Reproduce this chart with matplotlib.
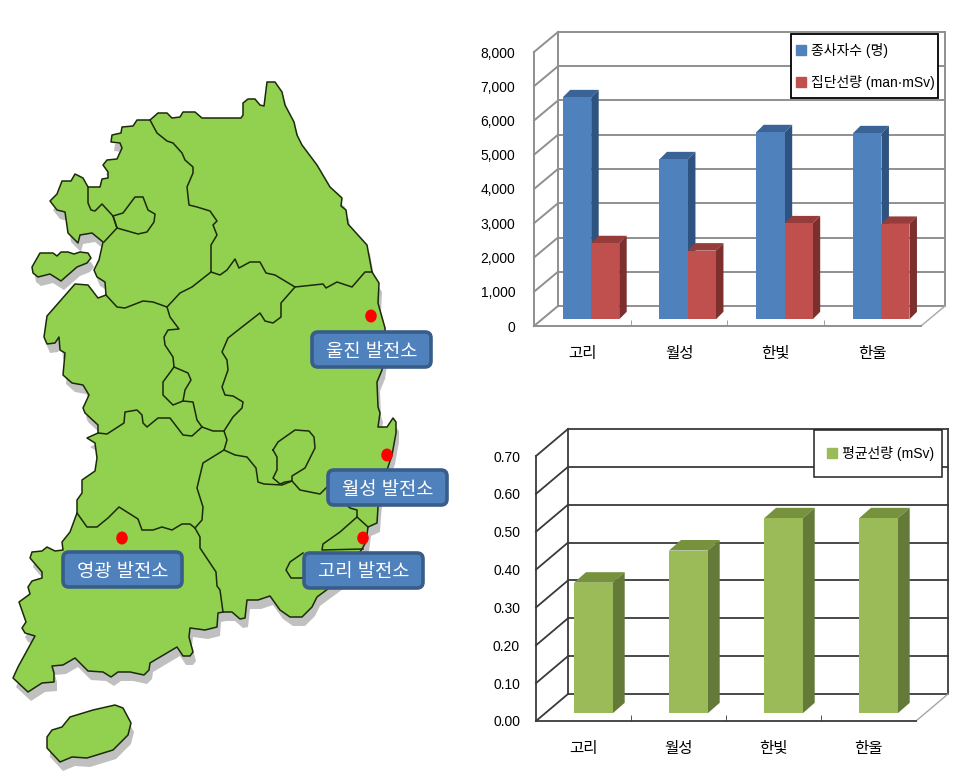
import matplotlib
matplotlib.use('Agg')
import matplotlib.pyplot as plt
from matplotlib.patches import Polygon, Ellipse, FancyBboxPatch, Patch, Rectangle

plt.rcParams['font.family'] = ['Liberation Sans', 'Noto Sans CJK KR']

W, H = 962, 784

# chart data
plants = ['고리', '월성', '한빛', '한울']
workers = [6480, 4670, 5460, 5430]
collective_dose = [2220, 2005, 2800, 2785]
mean_dose = [0.345, 0.43, 0.515, 0.515]

# map outlines, in image pixels
mainland = [(150, 120), (158, 113), (167, 113), (172, 118), (180, 117), (183, 112), (195, 112), (202, 118),
            (241, 118), (243, 115), (243, 103), (248, 99), (255, 99), (260, 105), (264, 106), (267, 82),
            (275, 82), (282, 92), (285, 105), (294, 122), (297, 135), (302, 145), (317, 165), (330, 187),
            (342, 198), (341, 206), (346, 210), (348, 224), (367, 245), (372, 272), (379, 283), (378, 303),
            (385, 328), (385, 350), (382, 370), (377, 382), (378, 407), (380, 413), (378, 427), (387, 427),
            (393, 418), (396, 422), (396, 433), (392, 455), (388, 467), (380, 490), (378, 507), (377, 523),
            (368, 527), (366, 542), (362, 549), (340, 580), (317, 597), (312, 607), (302, 617), (290, 617),
            (280, 610), (270, 596), (258, 600), (247, 600), (245, 618), (240, 619), (232, 612), (223, 612),
            (218, 613), (217, 627), (205, 630), (190, 628), (189, 637), (193, 652), (190, 656), (183, 656),
            (177, 647), (150, 663), (149, 670), (144, 675), (130, 672), (118, 672), (111, 677), (103, 672),
            (88, 671), (75, 658), (63, 665), (52, 666), (54, 673), (54, 682), (42, 683), (28, 692),
            (13, 678), (18, 667), (35, 636), (25, 633), (22, 628), (26, 622), (19, 602), (30, 594),
            (28, 587), (32, 581), (42, 578), (42, 572), (30, 558), (32, 552), (42, 551), (47, 547),
            (55, 551), (63, 550), (62, 542), (70, 532), (77, 513), (77, 500), (82, 493), (82, 480),
            (95, 471), (97, 458), (95, 443), (87, 438), (98, 433), (98, 425), (85, 413), (83, 408),
            (89, 395), (83, 385), (72, 383), (63, 375), (65, 353), (60, 350), (59, 337), (55, 343),
            (47, 344), (44, 337), (47, 316), (75, 284), (88, 285), (98, 298), (106, 295), (105, 282),
            (97, 277), (94, 270), (99, 260), (103, 242), (92, 233), (80, 235), (78, 243), (68, 233),
            (65, 212), (57, 210), (50, 201), (57, 194), (62, 181), (71, 181), (75, 174), (83, 178),
            (88, 187), (100, 187), (102, 179), (108, 178), (108, 172), (103, 165), (107, 160), (117, 159),
            (122, 148), (120, 143), (111, 142), (112, 135), (121, 133), (122, 127), (133, 126), (137, 120)]
west_island = [(32, 267), (40, 253), (53, 253), (57, 256), (61, 252), (68, 252), (74, 254), (80, 252),
               (88, 253), (91, 258), (87, 263), (77, 267), (61, 281), (50, 274), (38, 277), (33, 273)]
jeju = [(47, 737), (52, 730), (62, 727), (70, 717), (93, 710), (115, 705), (123, 708), (131, 723),
        (128, 735), (113, 750), (87, 758), (72, 757), (60, 762), (47, 748)]

borders = [
    [(150, 120), (157, 133), (167, 141), (173, 143), (182, 153), (185, 160), (193, 167), (193, 173),
     (187, 187), (189, 205), (197, 207), (210, 211), (217, 221), (213, 225), (217, 235), (211, 245), (211, 272)],
    [(211, 272), (220, 275), (227, 270), (235, 259), (239, 268), (250, 262), (260, 262), (266, 273),
     (275, 275), (295, 287), (323, 284), (326, 288), (337, 282), (352, 287), (365, 272), (372, 272)],
    [(211, 272), (192, 287), (180, 293), (167, 307), (153, 302), (143, 301), (125, 308), (117, 307), (106, 295)],
    [(167, 307), (170, 317), (179, 329), (168, 330), (164, 337), (165, 345), (173, 357), (174, 367),
     (163, 382), (163, 395), (173, 405), (183, 401), (185, 390), (191, 380), (188, 373), (174, 367)],
    [(183, 401), (193, 402), (197, 420), (202, 427), (213, 431), (224, 431), (233, 417), (242, 408),
     (243, 402), (233, 396), (225, 395), (222, 387), (228, 370), (227, 360), (222, 352), (228, 338),
     (242, 327), (260, 313), (265, 321), (273, 323), (281, 317), (281, 303), (295, 287)],
    [(98, 433), (107, 434), (124, 423), (125, 412), (137, 410), (142, 415), (143, 423), (147, 427),
     (158, 418), (170, 418), (183, 435), (192, 436), (202, 427)],
    [(224, 431), (227, 440), (224, 450), (203, 463), (197, 488), (203, 507), (202, 520), (195, 528)],
    [(77, 513), (87, 527), (97, 527), (108, 518), (119, 507), (138, 519), (142, 530), (153, 530),
     (162, 527), (172, 530), (182, 524), (190, 524), (195, 528)],
    [(195, 528), (200, 537), (200, 548), (216, 572), (217, 586), (220, 590), (223, 612)],
    [(224, 450), (235, 455), (247, 457), (256, 468), (258, 482), (264, 484), (282, 485), (292, 481),
     (300, 490), (320, 494), (327, 487), (350, 508), (357, 510), (357, 517), (368, 527)],
    [(273, 450), (278, 442), (295, 430), (309, 431), (314, 437), (315, 448), (305, 468), (292, 476),
     (292, 481), (285, 482), (280, 484), (273, 478), (277, 470), (277, 457), (273, 450)],
    [(357, 517), (340, 532), (323, 544), (322, 550), (363, 549)],
    [(303, 553), (290, 562), (286, 570), (291, 578), (305, 578)],
    [(113, 216), (123, 213), (135, 197), (143, 197), (148, 210), (155, 214), (154, 222), (147, 232),
     (138, 234), (117, 228), (113, 216)],
    [(88, 187), (88, 203), (91, 210), (95, 211), (102, 204), (113, 216), (117, 228), (104, 242)],
]

site_x = [371, 387, 363, 122]
site_y = [316, 455, 538, 538]
box_names = ['울진 발전소', '월성 발전소', '고리 발전소', '영광 발전소']
box_left = [310, 326, 302, 61]
box_top = [330, 468, 551, 550]


def make_axes(fig, left, right, top, bottom):
    return fig.add_axes([left / W, 1 - bottom / H, (right - left) / W, (bottom - top) / H])


def draw_bar(ax, x, val, width, base, dx, dy, front, side, top, zorder):
    ax.fill([x, x + dx, x + width + dx, x + width], [val + base, val + base + dy, val + base + dy, val + base],
            color=top, zorder=zorder, clip_on=False, lw=0)
    ax.fill([x + width, x + width + dx, x + width + dx, x + width],
            [base, base + dy, val + base + dy, val + base], color=side, zorder=zorder, clip_on=False, lw=0)
    ax.bar(x, val, width, bottom=base, align='edge', color=front, zorder=zorder + 0.1, clip_on=False)


def draw_chart(box, back_dx, back_dy, ymax, step, fmt, line, lw, ypad):
    left, right, top, bottom = box
    ax = make_axes(fig, left, right, top, bottom)
    ax.patch.set_alpha(0)
    ax.set_xlim(0, 4)
    ax.set_ylim(0, ymax)
    xu = 4 / (right - left)
    yu = ymax / (bottom - top)
    dx, dy = back_dx * xu, back_dy * yu

    n = int(round(ymax / step))
    for i in range(n + 1):
        v = i * step
        ax.plot([0, dx], [v, v + dy], color=line, lw=lw, zorder=1, clip_on=False)
        ax.plot([dx, 4 + dx], [v + dy, v + dy], color=line, lw=lw, zorder=1, clip_on=False)
    ax.plot([dx, dx], [dy, ymax + dy], color=line, lw=lw, zorder=1, clip_on=False)
    ax.plot([4 + dx, 4 + dx], [dy, ymax + dy], color=line, lw=lw, zorder=1, clip_on=False)
    ax.plot([4, 4 + dx], [0, dy], color='#a6a6a6', lw=1, zorder=1, clip_on=False)

    for s in ['top', 'right']:
        ax.spines[s].set_visible(False)
    for s in ['left', 'bottom']:
        ax.spines[s].set_color(line)
        ax.spines[s].set_linewidth(lw)
    ax.set_yticks([i * step for i in range(n + 1)])
    ax.set_yticklabels([fmt.format(i * step) for i in range(n + 1)], fontsize=10)
    ax.set_xticks([0.5, 1.5, 2.5, 3.5])
    ax.set_xticklabels(plants, fontsize=11.2)
    ax.set_xticks([1, 2, 3], minor=True)
    ax.tick_params(axis='x', which='major', length=0, pad=14.5)
    ax.tick_params(axis='x', which='minor', direction='in', length=4.5, color=line)
    ax.tick_params(axis='y', length=0, pad=ypad)
    return ax, xu, yu


def legend_frame(left, top, right, bottom, color, lw):
    fig.add_artist(Rectangle((left / W, 1 - bottom / H), (right - left) / W, (bottom - top) / H,
                             transform=fig.transFigure, fc='white', ec=color, lw=lw, zorder=5))


def legend_entries(handles, left, top, spacing):
    leg = fig.legend(handles=handles, loc='upper left', bbox_to_anchor=(left / W, 1 - top / H),
                     bbox_transform=fig.transFigure, frameon=False, fontsize=10, borderaxespad=0, borderpad=0,
                     handlelength=0.7, handleheight=0.7, handletextpad=0.35, labelspacing=spacing)
    leg.set_zorder(6)


fig = plt.figure(figsize=(W / 100, H / 100), dpi=100)

# map layer in image pixels
mp = fig.add_axes([0, 0, 1, 1])
mp.set_xlim(0, W)
mp.set_ylim(H, 0)
mp.axis('off')
for shape in [mainland, west_island, jeju]:
    mp.add_patch(Polygon([(x + 3, y + 9) for x, y in shape], closed=True, fc='#c0c0c0', ec='none', zorder=1))
for shape in [mainland, west_island, jeju]:
    mp.add_patch(Polygon(shape, closed=True, fc='#92d050', ec='#1c2a0c', lw=1.1, joinstyle='round', zorder=2))
for b in borders:
    mp.plot([p[0] for p in b], [p[1] for p in b], color='#1c2a0c', lw=1.1, zorder=3)
for x, y in zip(site_x, site_y):
    mp.add_patch(Ellipse((x, y), 11.5, 13, fc='#ff0000', ec='none', zorder=4))
for name, x, y in zip(box_names, box_left, box_top):
    mp.add_patch(FancyBboxPatch((x + 2, y + 2), 119, 35, boxstyle='round,pad=0,rounding_size=6',
                                fc='#4f81bd', ec='#385d8a', lw=2.6, zorder=5))
    mp.text(x + 61.5, y + 22, name, color='white', fontsize=13.5, ha='center', va='center', zorder=6)

# upper chart
ax1, xu, yu = draw_chart((534, 921, 52, 326), 24, 20, 8000, 1000, '{:,.0f}', '#8f8f8f', 1.4, 13.5)
bar_w = 28.5 * xu
for i in range(4):
    x0 = i + 28.7 * xu
    draw_bar(ax1, x0, workers[i], bar_w, 6.7 * yu, 7.5 * xu, 7.5 * yu, '#4f81bd', '#2f5380', '#3a6496', 3)
    draw_bar(ax1, x0 + bar_w, collective_dose[i], bar_w - 0.5 * xu, 6.7 * yu, 7.5 * xu, 7.5 * yu,
             '#c0504d', '#7d2f2d', '#963c3a', 3)
legend_frame(791, 34, 938, 98, 'black', 1.3)
legend_entries([Patch(color='#4f81bd', label='종사자수 (명)'),
                Patch(color='#c0504d', label='집단선량 (man·mSv)')], 796, 43, 1.2)

# lower chart
ax2, xu, yu = draw_chart((536, 916, 456, 721), 32, 27, 0.7, 0.1, '{:.2f}', '#3a3a3a', 1.3, 11.5)
for i in range(4):
    draw_bar(ax2, i + 38 * xu, mean_dose[i], 38.7 * xu, 7.7 * yu, 12 * xu, 10.5 * yu,
             '#9bbb59', '#637a38', '#76923c', 3)
legend_frame(814, 430, 942, 477, '#222222', 1.1)
legend_entries([Patch(color='#9bbb59', label='평균선량 (mSv)')], 827, 446, 0)

fig.savefig('out.png', dpi=100)
